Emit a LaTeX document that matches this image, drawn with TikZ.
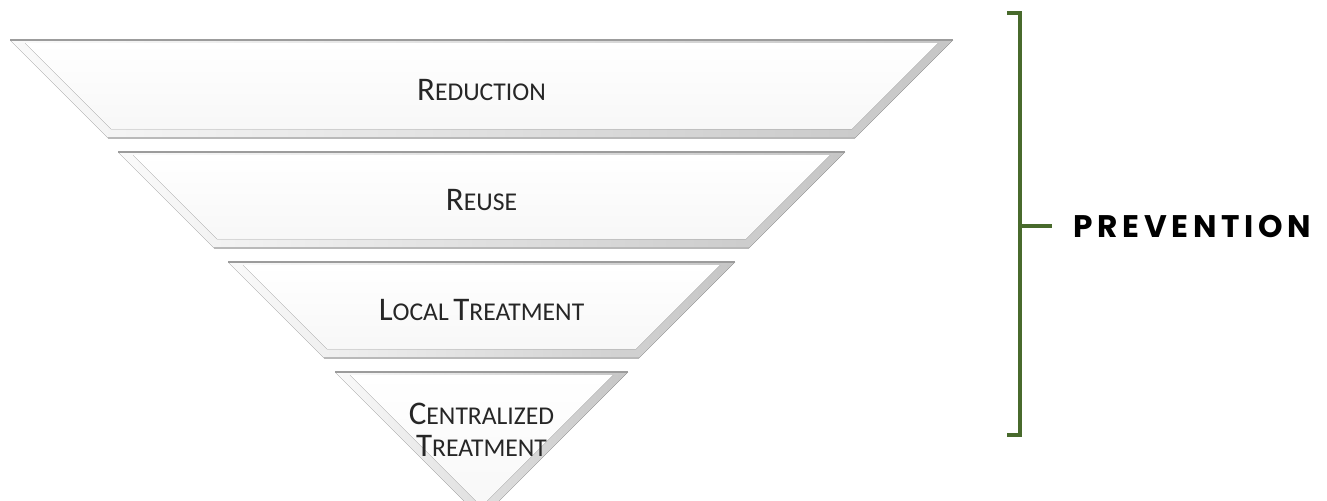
\documentclass[tikz,border=0pt]{standalone}
\usepackage{fontspec}
\setmainfont{Carlito}
\newfontfamily\prevfont[LetterSpace=15]{Poppins}
\usepackage{tikz}
\usetikzlibrary{calc}
\definecolor{bracketgreen}{HTML}{486A2C}
\definecolor{edgegray}{HTML}{9C9C9C}
% fake small caps: big first letter, smaller rest
\newcommand{\smc}[2]{{\fontsize{16.5}{18}\selectfont #1}{\fontsize{12.8}{14}\selectfont #2}}

\begin{document}
\begin{tikzpicture}[x=0.5pt,y=-0.5pt,
  lvl/.style={text=black!85,align=center,inner sep=0pt},
  bracket/.style={bracketgreen,line width=2.2pt}]
  \clip (0,0) rectangle (1327,500);
  % Funnel levels (top y / left x / right x / height)
  \foreach \yt/\xl/\xr/\h in {40/10/953/98, 152/118/845/96, 262/228/735/96, 372/335/628/146.5}{
    \fill[left color=gray!4, right color=gray!45]
      (\xl,\yt) -- (\xr,\yt) -- (\xr-\h,\yt+\h) -- (\xl+\h,\yt+\h) -- cycle;
    \fill[top color=white, bottom color=gray!6]
      (\xl+15,\yt+3) -- (\xr-15,\yt+3) -- (\xr-\h-3,\yt+\h-9) -- (\xl+\h+3,\yt+\h-9) -- cycle;
    \draw[edgegray,line width=1pt] (\xl,\yt) -- (\xr,\yt);
    \draw[gray!55,line width=0.8pt] (\xl+\h,\yt+\h) -- (\xr-\h,\yt+\h);
  }
  % Labels
  \node[lvl] (red) at (481.5,90) {\smc{R}{EDUCTION}};
  \node[lvl] (reu) at (481.5,200) {\smc{R}{EUSE}};
  \node[lvl] (loc) at (481.5,310) {\smc{L}{OCAL} \smc{T}{REATMENT}};
  \node[lvl] (cen) at (481.5,430) {\smc{C}{ENTRALIZED}\\[4pt]\smc{T}{REATMENT}};
  % Bracket
  \coordinate (btop) at (1020,13);
  \coordinate (bbot) at (1020,435);
  \coordinate (bmid) at (1020,226);
  \coordinate (tick) at (1052,226);
  \draw[bracket] (1007,13) -- (btop) -- (bbot) -- (1007,435);
  \draw[bracket] (bmid) -- (tick);
  \node[font=\prevfont\bfseries\fontsize{15.6}{18}\selectfont,anchor=west,inner sep=0pt] (prev) at (1073,226) {PREVENTION};
\end{tikzpicture}
\end{document}
